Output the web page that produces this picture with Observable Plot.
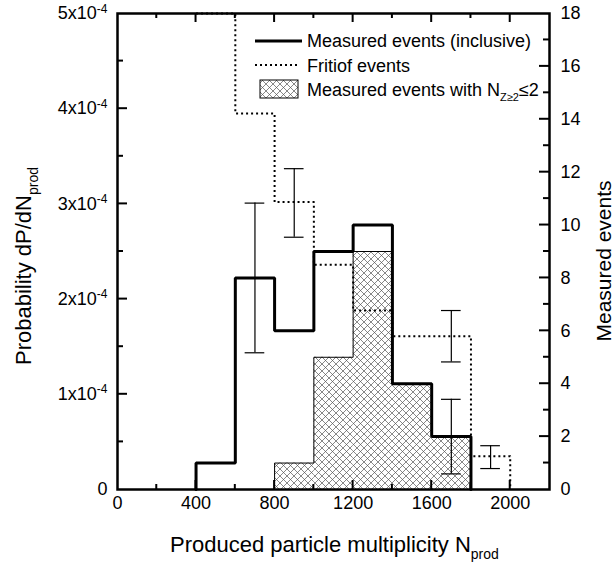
<!DOCTYPE html>
<html><head><meta charset="utf-8">
<script src="https://cdn.jsdelivr.net/npm/d3@7"></script>
<script src="https://cdn.jsdelivr.net/npm/@observablehq/plot@0.6"></script>
<style>
body{margin:0;background:#fff;overflow:hidden}
svg{font-family:"Liberation Sans",Arial,Helvetica,sans-serif}
</style>
</head><body><div id="chart"></div>
<script>
// ---- data ----
const binEdges = [400, 600, 800, 1000, 1200, 1400, 1600, 1800];
const measuredEvents = [1, 8, 6, 9, 10, 4, 2];          // bins 400-600 ... 1600-1800
const lowZEdges = [800, 1000, 1200, 1400, 1600, 1800];
const lowZEvents = [1, 5, 9, 4, 2];                       // N_{Z>=2} <= 2
const fritiofEdges = [400, 600, 800, 1000, 1200, 1400, 1600, 1800, 2000];
const fritiofProb = [5.0e-4, 3.95e-4, 3.02e-4, 2.36e-4, 1.88e-4, 1.61e-4, 1.61e-4, 0.35e-4];
const measErrX = [700, 1700];
const measErrEvents = [8, 2];
const measErrSigma = [2.83, 1.41];
const fritErrX = [900, 1700, 1900];
const fritErrLow = [2.65e-4, 1.34e-4, 0.22e-4];
const fritErrHigh = [3.37e-4, 1.88e-4, 0.46e-4];
const xTicks = [0, 400, 800, 1200, 1600, 2000];
const yTicks = [0, 1e-4, 2e-4, 3e-4, 4e-4, 5e-4];
const eventTicks = [0, 2, 4, 6, 8, 10, 12, 14, 16, 18];
const eventsMax = 18, probMax = 5e-4, xMax = 2200;

const toProb = e => e * probMax / eventsMax;

function stepOutline(edges, vals, conv) {
  const pts = [{x: edges[0], y: 0}];
  vals.forEach((v, i) => pts.push({x: edges[i], y: conv(v)}));
  pts.push({x: edges[vals.length], y: 0});
  return pts;
}
const measuredLine = stepOutline(binEdges, measuredEvents, toProb);
const lowZLine = stepOutline(lowZEdges, lowZEvents, toProb);
const lowZRects = lowZEvents.map((v, i) => ({x1: lowZEdges[i], x2: lowZEdges[i + 1], y: toProb(v)}));
const fritiofLine = fritiofProb.map((v, i) => ({x: fritiofEdges[i], y: v}));
fritiofLine.push({x: fritiofEdges[fritiofProb.length], y: 0});

const errors = [
  ...measErrX.map((x, i) => ({x, lo: toProb(measErrEvents[i] - measErrSigma[i]), hi: toProb(measErrEvents[i] + measErrSigma[i])})),
  ...fritErrX.map((x, i) => ({x, lo: fritErrLow[i], hi: fritErrHigh[i]}))
];
const capHalf = 50;

const plot = Plot.plot({
  width: 615, height: 565,
  marginLeft: 117, marginRight: 66, marginTop: 13, marginBottom: 76,
  style: {fontFamily: "Liberation Sans, Arial, Helvetica, sans-serif", fontSize: "18px", color: "#000", background: "#fff"},
  x: {domain: [0, xMax]},
  y: {domain: [0, probMax]},
  marks: [
    Plot.rectY(lowZRects, {x1: "x1", x2: "x2", y: "y", fill: "url(#xhatch)"}),
    Plot.line(lowZLine, {x: "x", y: "y", curve: "step-after", stroke: "#000", strokeWidth: 1}),
    Plot.line(fritiofLine, {x: "x", y: "y", curve: "step-after", stroke: "#000", strokeWidth: 2, strokeDasharray: "2,3", strokeLinecap: "butt"}),
    Plot.line(measuredLine, {x: "x", y: "y", curve: "step-after", stroke: "#000", strokeWidth: 3, strokeLinejoin: "miter"}),
    Plot.ruleX(errors, {x: "x", y1: "lo", y2: "hi", stroke: "#000", strokeWidth: 1.2}),
    Plot.ruleY(errors, {y: "lo", x1: d => d.x - capHalf, x2: d => d.x + capHalf, stroke: "#000", strokeWidth: 1.2}),
    Plot.ruleY(errors, {y: "hi", x1: d => d.x - capHalf, x2: d => d.x + capHalf, stroke: "#000", strokeWidth: 1.2}),
    Plot.frame({stroke: "#000", strokeWidth: 2.5}),
    Plot.axisX({ticks: xTicks, tickSize: 0, tickPadding: 7, label: null, tickFormat: d => String(d)}),
    Plot.axisY({ticks: yTicks, tickSize: 0, tickPadding: 10, label: null,
      tickFormat: d => d === 0 ? "0" : Math.round(d / 1e-4) + "x10"}),
    Plot.axisY({anchor: "right", ticks: eventTicks.map(toProb), tickSize: 0, tickPadding: 11, label: null,
      tickFormat: d => String(Math.round(d * eventsMax / probMax))})
  ]
});
document.getElementById("chart").appendChild(plot);

const svg = d3.select(plot);
const sx = plot.scale("x"), sy = plot.scale("y");
const L = sx.apply(0), R = sx.apply(xMax), T = sy.apply(probMax), B = sy.apply(0);

// hatch pattern
const defs = svg.insert("defs", ":first-child");
const pat = defs.append("pattern").attr("id", "xhatch").attr("patternUnits", "userSpaceOnUse")
  .attr("width", 7).attr("height", 7);
pat.append("rect").attr("width", 7).attr("height", 7).attr("fill", "#fff");
pat.append("path").attr("d", "M0,0L7,7M7,0L0,7").attr("stroke", "#555").attr("stroke-width", 0.7);

// superscripts on left tick labels
svg.selectAll("text").each(function () {
  const t = d3.select(this);
  if (/x10$/.test(t.text())) {
    t.append("tspan").attr("dy", "-0.55em").attr("font-size", "12px").text("-4");
  }
});

// inward tick marks
const tg = svg.append("g").attr("stroke", "#000").attr("stroke-width", 2);
d3.range(200, xMax, 200).forEach(v => {
  const len = v % 400 === 0 ? 9 : 5, X = sx.apply(v);
  tg.append("line").attr("x1", X).attr("x2", X).attr("y1", B).attr("y2", B - len);
  tg.append("line").attr("x1", X).attr("x2", X).attr("y1", T).attr("y2", T + len);
});
d3.range(1, 10).forEach(k => {
  const len = k % 2 === 0 ? 10 : 6, Y = sy.apply(k * 0.5e-4);
  tg.append("line").attr("x1", L).attr("x2", L + len).attr("y1", Y).attr("y2", Y);
});
d3.range(1, eventsMax).forEach(e => {
  const len = e % 2 === 0 ? 10 : 6, Y = sy.apply(toProb(e));
  tg.append("line").attr("x1", R).attr("x2", R - len).attr("y1", Y).attr("y2", Y);
});

// axis titles
const xt = svg.append("text").attr("x", 170).attr("y", 552).attr("text-anchor", "start").attr("font-size", 22).attr("fill", "#000");
xt.append("tspan").text("Produced particle multiplicity N");
xt.append("tspan").attr("dy", 7).attr("font-size", 14).text("prod");

const yt = svg.append("text").attr("transform", "translate(31,365) rotate(-90)").attr("text-anchor", "start").attr("font-size", 22).attr("fill", "#000");
yt.append("tspan").text("Probability dP/dN");
yt.append("tspan").attr("dy", 7).attr("font-size", 14).text("prod");

svg.append("text").attr("transform", `translate(611,${(T + B) / 2 + 10}) rotate(-90)`).attr("text-anchor", "middle")
  .attr("font-size", 21).attr("fill", "#000").text("Measured events");

// legend
const lg = svg.append("g").attr("font-size", 18).attr("fill", "#000").attr("text-anchor", "start");
lg.append("line").attr("x1", 255).attr("x2", 302).attr("y1", 41).attr("y2", 41).attr("stroke", "#000").attr("stroke-width", 3);
lg.append("line").attr("x1", 255).attr("x2", 297).attr("y1", 65).attr("y2", 65).attr("stroke", "#000").attr("stroke-width", 2).attr("stroke-dasharray", "2,3");
lg.append("rect").attr("x", 260).attr("y", 80).attr("width", 38).attr("height", 18).attr("fill", "url(#xhatch)").attr("stroke", "#000").attr("stroke-width", 1);
lg.append("text").attr("x", 307).attr("y", 47).text("Measured events (inclusive)");
lg.append("text").attr("x", 307).attr("y", 72).text("Fritiof events");
const t3 = lg.append("text").attr("x", 307).attr("y", 96);
t3.append("tspan").text("Measured events with N");
t3.append("tspan").attr("dy", 5).attr("font-size", 11).text("Z≥2");
t3.append("tspan").attr("dy", -5).text("≤2");
</script>
</body></html>
